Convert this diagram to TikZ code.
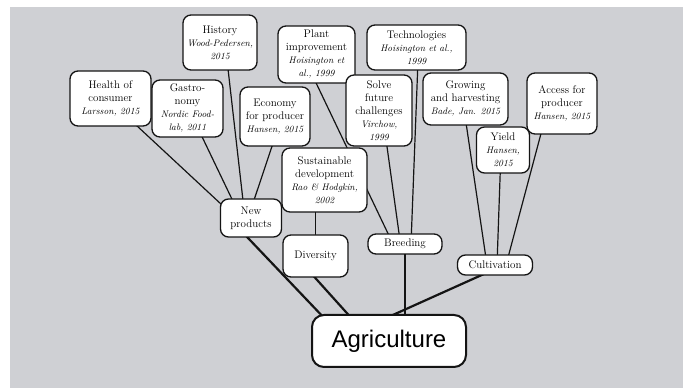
\documentclass[tikz,border=0pt]{standalone}
\usepackage{fontspec}
\newfontfamily\agrifont{Liberation Sans}
\usepackage{tikz}
\usetikzlibrary{backgrounds}
\definecolor{panel}{RGB}{207,208,212}
\definecolor{ink}{RGB}{20,20,20}
\newcommand{\srcnote}[1]{{\fontsize{9.5}{10.5}\selectfont\itshape #1}}
\tikzset{
  leaf/.style={draw=ink,fill=white,rounded corners=8pt,align=center,font=\fontsize{11}{13}\selectfont,line width=1.3pt,inner sep=2pt},
  hub/.style={leaf},
  root/.style={leaf,rounded corners=12pt,line width=2pt,font=\agrifont\fontsize{24}{28}\selectfont},
  twig/.style={draw=ink,line width=1.2pt},
  trunk/.style={draw=ink,line width=2.2pt},
}

\begin{document}
\begin{tikzpicture}[x=1pt,y=1pt]
  \useasboundingbox (0,0) rectangle (683,388);
  % upper boxes
  \node[leaf,minimum width=81pt,minimum height=55pt] (health) at (110.5,289.5) {Health of\\consumer\\\srcnote{Larsson, 2015}};
  \node[leaf,minimum width=71pt,minimum height=57pt] (gastro) at (187.5,279.5) {Gastro-\\nomy\\\srcnote{Nordic Food-}\\\srcnote{lab, 2011}};
  \node[leaf,minimum width=74pt,minimum height=55pt] (hist) at (220,345.5) {History\\\srcnote{Wood-Pedersen,}\\\srcnote{2015}};
  \node[leaf,minimum width=70pt,minimum height=59pt] (econ) at (275,271.5) {Economy\\for producer\\\srcnote{Hansen, 2015}};
  \node[leaf,minimum width=77pt,minimum height=57pt] (plant) at (316.5,333.5) {Plant\\improvement\\\srcnote{Hoisington et}\\\srcnote{al., 1999}};
  \node[leaf,minimum width=85pt,minimum height=64pt] (sust) at (324.5,208) {Sustainable\\development\\\srcnote{Rao \& Hodgkin,}\\\srcnote{2002}};
  \node[leaf,minimum width=99pt,minimum height=45pt] (tech) at (416.5,340.5) {Technologies\\\srcnote{Hoisington et al.,}\\\srcnote{1999}};
  \node[leaf,minimum width=66pt,minimum height=71pt] (solve) at (379,277.5) {Solve\\future\\challenges\\\srcnote{Virchow,}\\\srcnote{1999}};
  \node[leaf,minimum width=85pt,minimum height=52pt] (grow) at (465.5,289) {Growing\\and harvesting\\\srcnote{Bade, Jan. 2015}};
  \node[leaf,minimum width=70pt,minimum height=61pt] (access) at (562,284.5) {Access for\\producer\\\srcnote{Hansen, 2015}};
  \node[leaf,minimum width=53pt,minimum height=46pt] (yield) at (503,238) {Yield\\\srcnote{Hansen,}\\\srcnote{2015}};
  % branches
  \node[hub,minimum width=61pt,minimum height=38pt] (newp) at (251,170) {New\\products};
  \node[hub,minimum width=65pt,minimum height=42pt] (div) at (315.5,132) {Diversity};
  \node[hub,minimum width=74pt,minimum height=20pt] (breed) at (405,144) {Breeding};
  \node[hub,minimum width=75pt,minimum height=20pt] (cult) at (495,123) {Cultivation};
  % root
  \node[root,minimum width=154pt,minimum height=52pt] (agri) at (389,47) {Agriculture};
  % panel and connectors behind the boxes
  \begin{scope}[on background layer]
    \fill[white] (0,0) rectangle (683,388);
    \fill[panel] (10,0) rectangle (683,381);
    \draw[twig] ([xshift=-3pt]health.center) -- ([xshift=-15pt]newp.center);
    \draw[twig] ([xshift=1pt]gastro.center) -- ([xshift=-10pt]newp.center);
    \draw[twig] ([xshift=5pt]hist.center) -- ([xshift=-6pt]newp.center);
    \draw[twig] ([xshift=7pt]econ.center) -- ([xshift=-3pt]newp.center);
    \draw[twig] ([xshift=-9pt]sust.center) -- (div.center);
    \draw[twig] ([xshift=-14pt]plant.center) -- ([xshift=-12pt]breed.center);
    \draw[twig] ([xshift=3pt]solve.center) -- ([xshift=-4.5pt]breed.center);
    \draw[twig] ([xshift=2pt]tech.center) -- ([xshift=6pt]breed.center);
    \draw[twig] ([xshift=-3pt]grow.center) -- ([xshift=-8pt]cult.center);
    \draw[twig] ([xshift=-2pt]yield.center) -- ([xshift=2pt]cult.center);
    \draw[twig] ([xshift=-13pt]access.center) -- ([xshift=11pt]cult.center);
    \draw[trunk] ([xshift=-22pt]newp.center) -- ([xshift=-43pt]agri.center);
    \draw[trunk] ([xshift=-20pt]div.center) -- ([xshift=-17pt]agri.center);
    \draw[trunk] (breed.center) -- ([xshift=16pt]agri.center);
    \draw[trunk] ([xshift=9pt]cult.center) -- ([xshift=-54pt]agri.center);
  \end{scope}
\end{tikzpicture}
\end{document}
